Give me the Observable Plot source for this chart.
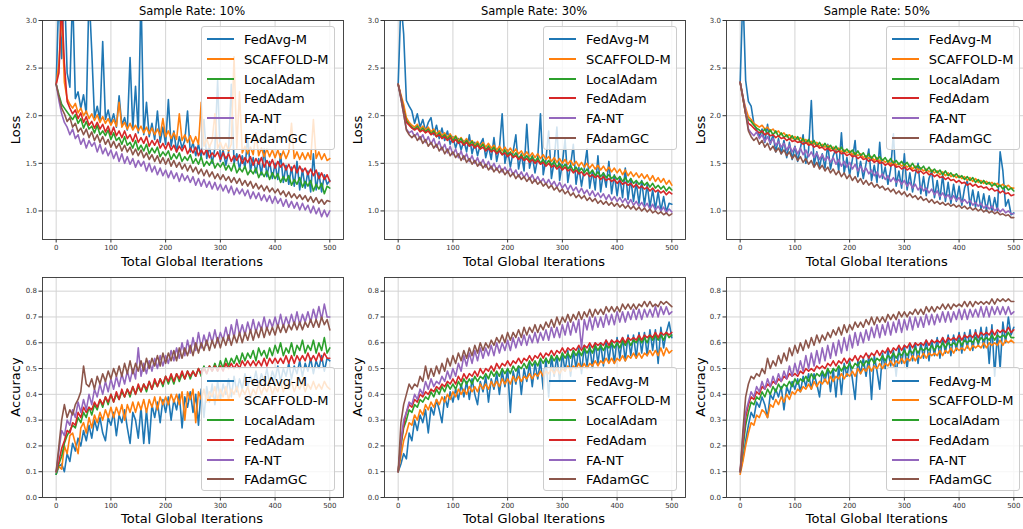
<!DOCTYPE html>
<html><head><meta charset="utf-8">
<script src="https://cdn.jsdelivr.net/npm/d3@7"></script>
<script src="https://cdn.jsdelivr.net/npm/@observablehq/plot@0.6"></script>
<style>
html,body{margin:0;padding:0;background:#fff;width:1023px;height:529px;overflow:hidden;font-family:"DejaVu Sans",sans-serif;}
#fig{position:relative;width:1023px;height:529px;overflow:hidden;background:#fff;}
.panel{position:absolute;}
.lbl{position:absolute;white-space:nowrap;color:#000;line-height:1;}
.legend{position:absolute;background:rgba(255,255,255,0.8);border:1px solid #cccccc;border-radius:3px;box-sizing:border-box;width:134px;height:124px;}
.sw{position:absolute;left:5px;width:27px;height:2px;}
.lt{position:absolute;left:42px;font-size:13px;line-height:1;color:#000;white-space:nowrap;transform:translateY(-50%);}
</style></head><body><div id="fig"></div><script>
const iterStep = 5;
const seriesNames = ["FedAvg-M","SCAFFOLD-M","LocalAdam","FedAdam","FA-NT","FAdamGC"];
const seriesColors = ["#1f77b4","#ff7f0e","#2ca02c","#d62728","#9467bd","#8c564b"];
const sampleRates = ["10%","30%","50%"];
const xTicks = [0,100,200,300,400,500];
const lossTicks = [1.0,1.5,2.0,2.5,3.0];
const accTicks = [0.0,0.1,0.2,0.3,0.4,0.5,0.6,0.7,0.8];

// ---- Loss, sample rate 10% ----
const loss10_FedAvgM = [2.33,3.3,2.6,3.4,2.45,2.3,3.3,2.18,2.25,2.08,
2.22,2.02,3.3,2.68,1.98,2.10,1.95,2.78,1.96,2.06,
1.92,2.02,1.88,2.21,1.90,1.98,1.85,2.61,1.86,2.31,
1.82,3.3,1.80,2.14,1.78,1.92,1.75,2.05,1.72,1.88,
1.70,2.17,1.68,1.84,1.62,1.78,1.66,1.74,2.05,1.62,
1.72,1.58,1.70,1.56,1.96,1.55,1.68,1.50,1.66,2.37,
1.52,1.64,1.48,1.62,2.33,1.50,1.60,1.44,1.58,1.45,
1.78,1.42,1.56,1.40,1.55,1.38,1.65,1.36,1.52,1.34,
1.50,1.33,1.60,1.30,1.48,1.28,1.46,1.26,1.52,1.22,
1.44,1.24,1.42,1.20,1.60,1.22,1.40,1.20,1.38,1.28,
1.32];
const loss10_SCAFFOLDM = [2.33,2.55,3.1,2.35,2.18,2.12,2.08,2.13,2.03,2.08,
2.00,2.05,1.97,2.02,1.95,2.01,1.93,1.99,1.92,1.97,
1.90,1.96,1.89,2.14,1.88,1.93,1.86,1.92,1.85,1.90,
1.84,1.89,1.82,1.88,1.81,1.87,1.80,1.86,1.79,1.97,
1.78,1.84,1.76,1.82,1.75,2.02,1.74,1.80,1.72,1.79,
1.71,1.78,1.70,2.14,1.68,1.76,1.67,1.74,2.02,1.66,
1.72,1.64,1.71,1.63,1.70,2.62,1.66,2.25,1.61,1.68,
1.60,1.67,1.59,1.82,1.58,1.66,1.57,1.65,1.57,1.64,
1.56,1.64,1.55,1.63,1.55,1.62,1.92,1.55,1.62,1.54,
1.61,1.54,1.61,1.54,1.96,1.55,1.62,1.54,1.60,1.53,
1.55];
const loss10_LocalAdam = [2.33,2.22,2.12,2.08,2.04,2.00,1.96,2.01,1.92,1.97,
1.87,1.94,1.86,1.89,1.82,1.90,1.80,1.84,1.79,1.85,
1.75,1.82,1.74,1.77,1.70,1.78,1.69,1.72,1.66,1.74,
1.64,1.69,1.63,1.70,1.60,1.66,1.61,1.67,1.57,1.62,
1.58,1.63,1.54,1.60,1.55,1.61,1.52,1.57,1.53,1.59,
1.50,1.55,1.49,1.57,1.47,1.52,1.48,1.54,1.45,1.50,
1.46,1.51,1.43,1.48,1.42,1.50,1.40,1.45,1.41,1.47,
1.38,1.43,1.39,1.45,1.35,1.41,1.36,1.42,1.33,1.40,
1.34,1.39,1.30,1.36,1.31,1.37,1.27,1.33,1.28,1.35,
1.25,1.31,1.26,1.32,1.21,1.28,1.23,1.29,1.18,1.26,
1.24];
const loss10_FedAdam = [2.33,2.45,3.2,2.55,2.15,2.08,2.02,2.06,1.97,2.03,
1.93,1.99,1.90,1.94,1.87,1.93,1.86,1.91,1.83,1.89,
1.80,1.88,1.79,1.84,1.77,1.84,1.76,1.80,1.73,1.81,
1.72,1.77,1.71,1.78,1.68,1.74,1.69,1.75,1.66,1.71,
1.65,1.72,1.64,1.69,1.62,1.68,1.63,1.69,1.60,1.66,
1.61,1.67,1.58,1.64,1.59,1.65,1.56,1.61,1.57,1.62,
1.54,1.61,1.55,1.60,1.52,1.58,1.53,1.59,1.50,1.56,
1.51,1.57,1.48,1.55,1.49,1.56,1.46,1.53,1.47,1.54,
1.45,1.52,1.46,1.50,1.43,1.49,1.42,1.48,1.40,1.47,
1.41,1.45,1.38,1.44,1.37,1.43,1.34,1.40,1.33,1.38,
1.31];
const loss10_FANT = [2.33,2.16,2.02,1.93,1.88,1.80,1.86,1.76,1.80,1.70,
1.76,1.66,1.74,1.68,1.72,1.62,1.70,1.60,1.66,1.58,
1.64,1.55,1.62,1.52,1.60,1.50,1.57,1.49,1.55,1.46,
1.53,1.47,1.52,1.42,1.50,1.41,1.47,1.38,1.45,1.37,
1.43,1.35,1.42,1.34,1.40,1.31,1.39,1.32,1.37,1.30,
1.36,1.27,1.34,1.26,1.33,1.25,1.31,1.23,1.30,1.22,
1.28,1.21,1.27,1.19,1.26,1.17,1.24,1.18,1.23,1.16,
1.22,1.13,1.20,1.13,1.19,1.11,1.17,1.10,1.16,1.08,
1.15,1.08,1.13,1.05,1.12,1.04,1.10,1.03,1.09,1.01,
1.08,1.01,1.06,0.98,1.05,0.97,1.03,0.94,1.01,0.94,
1.00];
const loss10_FAdamGC = [2.33,2.20,2.08,2.02,1.94,1.98,1.88,1.92,1.83,1.87,
1.80,1.86,1.77,1.83,1.74,1.80,1.72,1.78,1.70,1.75,
1.67,1.73,1.66,1.71,1.63,1.69,1.62,1.67,1.59,1.65,
1.58,1.64,1.56,1.61,1.54,1.59,1.52,1.58,1.50,1.56,
1.49,1.55,1.47,1.53,1.46,1.51,1.44,1.49,1.42,1.48,
1.41,1.46,1.39,1.44,1.37,1.43,1.36,1.41,1.34,1.39,
1.33,1.38,1.32,1.36,1.30,1.35,1.29,1.34,1.27,1.32,
1.26,1.31,1.24,1.29,1.23,1.27,1.21,1.26,1.20,1.24,
1.19,1.23,1.17,1.21,1.15,1.20,1.14,1.18,1.13,1.17,
1.12,1.16,1.10,1.15,1.09,1.14,1.08,1.12,1.07,1.11,
1.10];

// ---- Loss, sample rate 30% ----
const loss30_FedAvgM = [2.33,3.2,2.86,2.16,2.10,2.05,1.92,2.02,1.88,1.96,
1.84,1.93,1.98,1.80,1.90,1.76,1.87,1.74,1.84,1.70,
1.78,1.66,1.76,1.64,1.74,1.62,1.80,1.60,1.72,1.58,
1.70,1.76,1.56,1.68,1.54,1.77,1.52,1.66,2.02,1.50,
1.64,1.46,1.62,1.80,1.44,1.60,1.42,1.91,1.45,1.58,
1.40,1.56,2.02,1.38,1.54,1.84,1.34,1.52,1.88,1.32,
1.50,1.75,1.30,1.48,1.70,1.28,1.46,1.26,1.44,1.65,
1.24,1.42,1.22,1.58,1.20,1.40,1.25,1.52,1.18,1.38,
1.16,1.36,1.14,1.45,1.12,1.34,1.10,1.30,1.08,1.32,
1.06,1.28,1.04,1.22,1.02,1.20,1.00,1.15,0.99,1.08,
1.07];
const loss30_SCAFFOLDM = [2.33,2.22,2.12,1.98,1.93,1.90,1.88,1.91,1.86,1.89,
1.85,1.88,1.83,1.86,1.81,1.84,1.79,1.82,1.77,1.81,
1.76,1.79,1.74,1.77,1.72,1.76,1.71,1.74,1.69,1.73,
1.68,1.72,1.67,1.71,1.66,1.69,1.64,1.68,1.63,1.67,
1.62,1.66,1.61,1.65,1.60,1.63,1.58,1.62,1.57,1.61,
1.56,1.60,1.55,1.59,1.54,1.57,1.52,1.56,1.51,1.55,
1.50,1.54,1.49,1.53,1.48,1.52,1.47,1.51,1.46,1.50,
1.45,1.49,1.44,1.48,1.43,1.47,1.42,1.46,1.41,1.45,
1.40,1.44,1.38,1.43,1.37,1.41,1.36,1.40,1.35,1.39,
1.34,1.38,1.32,1.37,1.31,1.35,1.30,1.34,1.28,1.32,
1.27];
const loss30_LocalAdam = [2.33,2.20,2.06,1.95,1.91,1.88,1.86,1.89,1.84,1.87,
1.83,1.86,1.81,1.84,1.78,1.82,1.77,1.80,1.75,1.79,
1.73,1.78,1.72,1.76,1.70,1.74,1.69,1.73,1.67,1.71,
1.66,1.70,1.64,1.68,1.63,1.67,1.61,1.65,1.59,1.64,
1.58,1.62,1.57,1.61,1.55,1.59,1.54,1.58,1.53,1.57,
1.52,1.56,1.50,1.54,1.49,1.53,1.48,1.52,1.46,1.50,
1.45,1.49,1.44,1.48,1.42,1.46,1.41,1.45,1.40,1.44,
1.39,1.43,1.37,1.41,1.36,1.40,1.35,1.38,1.34,1.37,
1.33,1.36,1.31,1.35,1.30,1.34,1.29,1.32,1.28,1.31,
1.27,1.30,1.25,1.29,1.24,1.27,1.23,1.26,1.21,1.25,
1.22];
const loss30_FedAdam = [2.33,2.20,2.05,1.93,1.90,1.87,1.85,1.87,1.83,1.85,
1.82,1.84,1.80,1.82,1.78,1.80,1.76,1.78,1.74,1.77,
1.72,1.75,1.71,1.73,1.69,1.72,1.68,1.70,1.66,1.69,
1.65,1.67,1.63,1.66,1.62,1.64,1.60,1.63,1.59,1.61,
1.57,1.60,1.56,1.58,1.54,1.57,1.53,1.55,1.51,1.54,
1.50,1.53,1.49,1.51,1.47,1.50,1.46,1.48,1.44,1.47,
1.43,1.46,1.42,1.44,1.40,1.43,1.39,1.41,1.37,1.40,
1.36,1.38,1.35,1.37,1.33,1.36,1.32,1.34,1.31,1.33,
1.29,1.32,1.28,1.30,1.27,1.29,1.25,1.28,1.24,1.26,
1.23,1.25,1.21,1.24,1.20,1.22,1.19,1.21,1.17,1.20,
1.18];
const loss30_FANT = [2.33,2.18,2.02,1.86,1.82,1.84,1.78,1.82,1.75,1.80,
1.72,1.78,1.70,1.76,1.67,1.73,1.64,1.70,1.61,1.68,
1.59,1.65,1.56,1.63,1.54,1.60,1.52,1.58,1.50,1.56,
1.48,1.54,1.46,1.52,1.44,1.50,1.43,1.48,1.41,1.46,
1.40,1.45,1.38,1.43,1.36,1.41,1.35,1.40,1.33,1.38,
1.31,1.36,1.30,1.34,1.28,1.33,1.27,1.31,1.25,1.30,
1.24,1.28,1.22,1.27,1.21,1.25,1.19,1.24,1.18,1.22,
1.16,1.21,1.15,1.19,1.14,1.18,1.12,1.17,1.11,1.15,
1.10,1.14,1.09,1.13,1.07,1.12,1.06,1.10,1.05,1.09,
1.04,1.08,1.02,1.07,1.01,1.05,1.00,1.04,0.98,1.02,
0.99];
const loss30_FAdamGC = [2.33,2.18,2.02,1.85,1.80,1.77,1.80,1.74,1.78,1.71,
1.75,1.68,1.72,1.66,1.70,1.63,1.67,1.60,1.65,1.58,
1.62,1.56,1.60,1.53,1.58,1.51,1.55,1.49,1.53,1.47,
1.51,1.45,1.49,1.43,1.47,1.41,1.45,1.40,1.44,1.38,
1.42,1.36,1.40,1.34,1.38,1.33,1.36,1.31,1.35,1.29,
1.33,1.28,1.31,1.26,1.29,1.24,1.27,1.22,1.25,1.20,
1.23,1.18,1.21,1.16,1.19,1.14,1.17,1.13,1.16,1.11,
1.14,1.10,1.13,1.08,1.11,1.07,1.10,1.06,1.09,1.05,
1.08,1.04,1.07,1.03,1.06,1.02,1.05,1.01,1.04,1.00,
1.03,0.99,1.02,0.98,1.00,0.97,0.99,0.96,0.98,0.95,
0.97];

// ---- Loss, sample rate 50% ----
const loss50_FedAvgM = [2.35,3.3,2.37,2.15,2.10,1.92,1.85,1.78,1.86,1.72,
1.91,1.70,1.80,1.62,1.76,1.60,1.74,1.56,1.72,1.54,
1.68,1.52,1.66,1.80,1.50,1.64,2.16,1.48,1.62,1.46,
1.60,1.45,1.70,1.44,1.58,1.65,1.42,1.82,1.40,1.56,
1.38,1.54,1.74,1.36,1.52,1.34,1.50,1.65,1.32,1.48,
1.30,1.72,1.34,1.46,1.28,1.44,1.81,1.26,1.42,1.24,
1.60,1.22,1.40,1.20,1.38,1.50,1.18,1.36,1.16,1.34,
1.42,1.14,1.32,1.12,1.38,1.10,1.30,1.08,1.28,1.10,
1.26,1.06,1.24,1.32,1.05,1.22,1.04,1.20,1.02,1.18,
1.00,1.16,0.99,1.14,1.00,1.62,1.42,1.05,1.12,0.96,
0.98];
const loss50_SCAFFOLDM = [2.35,2.20,2.08,1.99,1.96,1.92,1.90,1.88,1.90,1.86,
1.88,1.84,1.86,1.82,1.84,1.80,1.82,1.78,1.80,1.76,
1.78,1.75,1.77,1.73,1.75,1.71,1.73,1.70,1.72,1.68,
1.70,1.67,1.69,1.65,1.67,1.64,1.66,1.62,1.64,1.61,
1.63,1.59,1.61,1.58,1.60,1.56,1.58,1.55,1.57,1.53,
1.56,1.52,1.54,1.51,1.53,1.49,1.52,1.48,1.50,1.47,
1.49,1.46,1.48,1.44,1.47,1.43,1.45,1.42,1.44,1.41,
1.43,1.40,1.42,1.38,1.41,1.37,1.40,1.36,1.38,1.35,
1.37,1.34,1.36,1.32,1.35,1.31,1.34,1.30,1.32,1.29,
1.31,1.28,1.30,1.27,1.29,1.26,1.28,1.25,1.27,1.24,
1.24];
const loss50_LocalAdam = [2.35,2.18,2.02,1.96,1.94,1.90,1.87,1.85,1.82,1.86,
1.81,1.85,1.80,1.84,1.78,1.82,1.77,1.80,1.75,1.79,
1.74,1.78,1.72,1.76,1.71,1.75,1.70,1.74,1.68,1.72,
1.67,1.71,1.66,1.69,1.64,1.68,1.63,1.67,1.62,1.65,
1.61,1.64,1.59,1.63,1.58,1.61,1.56,1.60,1.55,1.59,
1.54,1.57,1.53,1.56,1.51,1.55,1.50,1.53,1.49,1.52,
1.48,1.51,1.46,1.50,1.45,1.48,1.44,1.47,1.42,1.46,
1.41,1.44,1.40,1.43,1.38,1.42,1.37,1.40,1.36,1.39,
1.35,1.37,1.33,1.36,1.32,1.35,1.30,1.33,1.29,1.32,
1.28,1.30,1.26,1.29,1.25,1.27,1.23,1.26,1.22,1.24,
1.21];
const loss50_FedAdam = [2.35,2.18,2.02,1.92,1.90,1.87,1.84,1.82,1.84,1.80,
1.82,1.79,1.80,1.77,1.79,1.76,1.77,1.74,1.76,1.73,
1.74,1.72,1.73,1.70,1.72,1.69,1.70,1.67,1.69,1.66,
1.67,1.64,1.66,1.63,1.64,1.61,1.63,1.60,1.61,1.58,
1.60,1.57,1.58,1.55,1.57,1.54,1.55,1.52,1.54,1.51,
1.53,1.50,1.51,1.48,1.50,1.47,1.49,1.46,1.47,1.44,
1.46,1.43,1.45,1.42,1.43,1.40,1.42,1.39,1.41,1.38,
1.39,1.36,1.38,1.35,1.36,1.33,1.35,1.32,1.33,1.30,
1.32,1.29,1.30,1.27,1.29,1.26,1.28,1.25,1.26,1.24,
1.25,1.22,1.24,1.21,1.22,1.19,1.21,1.18,1.19,1.16,
1.17];
const loss50_FANT = [2.35,2.20,2.05,1.86,1.82,1.79,1.83,1.76,1.80,1.73,
1.78,1.71,1.76,1.69,1.73,1.67,1.71,1.64,1.69,1.62,
1.67,1.60,1.66,1.59,1.64,1.57,1.62,1.56,1.61,1.54,
1.59,1.53,1.57,1.51,1.56,1.49,1.54,1.47,1.52,1.46,
1.51,1.44,1.49,1.42,1.47,1.41,1.45,1.39,1.43,1.37,
1.41,1.35,1.39,1.33,1.37,1.31,1.35,1.30,1.33,1.28,
1.32,1.26,1.30,1.24,1.28,1.22,1.26,1.21,1.24,1.19,
1.23,1.17,1.21,1.15,1.19,1.14,1.17,1.12,1.16,1.11,
1.14,1.09,1.12,1.08,1.11,1.06,1.09,1.05,1.08,1.03,
1.06,1.02,1.05,1.00,1.03,0.99,1.02,0.98,1.00,0.97,
0.97];
const loss50_FAdamGC = [2.35,2.20,2.02,1.84,1.78,1.74,1.77,1.70,1.74,1.67,
1.71,1.64,1.68,1.62,1.66,1.60,1.64,1.58,1.62,1.55,
1.59,1.53,1.57,1.51,1.55,1.49,1.53,1.46,1.51,1.44,
1.48,1.42,1.46,1.40,1.44,1.38,1.42,1.36,1.40,1.34,
1.38,1.32,1.36,1.30,1.34,1.28,1.32,1.27,1.30,1.25,
1.28,1.24,1.26,1.22,1.24,1.20,1.23,1.18,1.21,1.17,
1.20,1.15,1.18,1.14,1.16,1.12,1.15,1.11,1.13,1.09,
1.12,1.08,1.10,1.07,1.09,1.06,1.08,1.05,1.07,1.04,
1.06,1.03,1.05,1.02,1.04,1.01,1.03,1.00,1.02,0.99,
1.01,0.98,1.00,0.97,0.99,0.96,0.97,0.95,0.96,0.93,
0.93];

// ---- Accuracy, sample rate 10% ----
const acc10_FedAvgM = [0.09,0.12,0.13,0.10,0.17,0.14,0.21,0.18,0.23,0.20,
0.26,0.22,0.28,0.23,0.30,0.26,0.31,0.25,0.22,0.31,
0.28,0.33,0.24,0.32,0.29,0.34,0.27,0.21,0.33,0.30,
0.23,0.35,0.21,0.34,0.21,0.36,0.31,0.37,0.29,0.38,
0.33,0.39,0.30,0.38,0.34,0.40,0.27,0.39,0.35,0.41,
0.33,0.40,0.28,0.42,0.31,0.43,0.37,0.44,0.36,0.45,
0.38,0.44,0.40,0.46,0.39,0.47,0.41,0.46,0.42,0.48,
0.43,0.47,0.44,0.49,0.43,0.48,0.45,0.50,0.44,0.49,
0.46,0.51,0.45,0.50,0.47,0.52,0.46,0.51,0.48,0.53,
0.47,0.52,0.49,0.54,0.48,0.53,0.50,0.55,0.49,0.54,
0.53];
const acc10_SCAFFOLDM = [0.10,0.12,0.11,0.20,0.17,0.24,0.25,0.21,0.17,0.27,
0.29,0.25,0.31,0.27,0.32,0.29,0.33,0.30,0.34,0.31,
0.35,0.31,0.35,0.32,0.36,0.30,0.36,0.33,0.37,0.33,
0.37,0.34,0.38,0.33,0.38,0.35,0.39,0.34,0.39,0.36,
0.39,0.36,0.40,0.37,0.40,0.36,0.41,0.30,0.41,0.38,
0.42,0.29,0.41,0.38,0.42,0.37,0.41,0.39,0.43,0.38,
0.42,0.39,0.43,0.38,0.42,0.40,0.43,0.39,0.42,0.40,
0.43,0.39,0.42,0.40,0.44,0.40,0.43,0.41,0.44,0.40,
0.43,0.41,0.45,0.41,0.44,0.42,0.45,0.41,0.44,0.42,
0.45,0.41,0.44,0.42,0.45,0.42,0.44,0.42,0.45,0.43,
0.42];
const acc10_LocalAdam = [0.09,0.13,0.16,0.21,0.24,0.26,0.28,0.27,0.31,0.29,
0.33,0.31,0.35,0.32,0.36,0.34,0.38,0.35,0.39,0.36,
0.40,0.37,0.40,0.38,0.41,0.39,0.42,0.39,0.43,0.40,
0.43,0.41,0.44,0.41,0.45,0.42,0.45,0.43,0.46,0.43,
0.47,0.44,0.47,0.44,0.48,0.45,0.48,0.46,0.49,0.46,
0.49,0.47,0.50,0.47,0.51,0.48,0.51,0.49,0.52,0.49,
0.53,0.50,0.54,0.51,0.54,0.52,0.55,0.52,0.56,0.53,
0.56,0.54,0.57,0.53,0.58,0.55,0.57,0.54,0.58,0.55,
0.59,0.56,0.60,0.55,0.58,0.56,0.60,0.55,0.59,0.57,
0.61,0.56,0.59,0.57,0.61,0.56,0.60,0.57,0.62,0.56,
0.58];
const acc10_FedAdam = [0.10,0.14,0.19,0.22,0.26,0.25,0.29,0.28,0.33,0.31,
0.35,0.33,0.35,0.34,0.37,0.35,0.38,0.36,0.39,0.37,
0.40,0.37,0.41,0.38,0.42,0.39,0.42,0.40,0.43,0.40,
0.44,0.41,0.44,0.42,0.45,0.42,0.46,0.43,0.46,0.44,
0.47,0.45,0.48,0.45,0.48,0.46,0.49,0.46,0.49,0.47,
0.49,0.47,0.50,0.48,0.50,0.48,0.51,0.49,0.51,0.49,
0.51,0.49,0.52,0.50,0.52,0.50,0.52,0.50,0.53,0.51,
0.53,0.51,0.53,0.51,0.53,0.51,0.54,0.51,0.54,0.52,
0.54,0.52,0.54,0.52,0.55,0.52,0.55,0.52,0.55,0.53,
0.55,0.53,0.56,0.53,0.55,0.53,0.56,0.53,0.56,0.54,
0.54];
const acc10_FANT = [0.10,0.18,0.26,0.24,0.30,0.28,0.34,0.31,0.37,0.33,
0.38,0.34,0.40,0.36,0.42,0.39,0.44,0.40,0.45,0.41,
0.46,0.42,0.47,0.43,0.48,0.44,0.49,0.45,0.50,0.46,
0.58,0.47,0.52,0.48,0.53,0.49,0.54,0.50,0.55,0.51,
0.55,0.52,0.57,0.53,0.58,0.54,0.60,0.55,0.61,0.56,
0.62,0.57,0.64,0.58,0.63,0.59,0.64,0.60,0.65,0.60,
0.64,0.61,0.66,0.61,0.67,0.62,0.69,0.63,0.67,0.63,
0.68,0.64,0.69,0.64,0.68,0.65,0.70,0.65,0.69,0.66,
0.70,0.66,0.71,0.66,0.70,0.67,0.71,0.67,0.72,0.67,
0.71,0.68,0.72,0.68,0.73,0.69,0.74,0.69,0.75,0.70,
0.70];
const acc10_FAdamGC = [0.10,0.20,0.30,0.36,0.31,0.34,0.32,0.36,0.38,0.41,
0.51,0.44,0.43,0.46,0.42,0.47,0.44,0.48,0.45,0.49,
0.46,0.50,0.47,0.51,0.47,0.52,0.48,0.53,0.48,0.52,
0.49,0.53,0.49,0.54,0.50,0.54,0.51,0.55,0.51,0.56,
0.52,0.56,0.53,0.57,0.53,0.58,0.54,0.58,0.55,0.59,
0.55,0.60,0.56,0.60,0.57,0.61,0.57,0.61,0.58,0.62,
0.58,0.62,0.59,0.63,0.59,0.63,0.60,0.64,0.60,0.64,
0.61,0.65,0.61,0.65,0.62,0.66,0.62,0.66,0.63,0.66,
0.63,0.67,0.64,0.67,0.64,0.67,0.65,0.68,0.65,0.68,
0.65,0.68,0.66,0.69,0.66,0.69,0.66,0.70,0.67,0.69,
0.65];

// ---- Accuracy, sample rate 30% ----
const acc30_FedAvgM = [0.10,0.13,0.17,0.15,0.25,0.22,0.30,0.26,0.32,0.29,
0.34,0.25,0.35,0.32,0.38,0.34,0.29,0.39,0.35,0.41,
0.37,0.42,0.38,0.44,0.39,0.45,0.38,0.46,0.40,0.36,
0.45,0.41,0.47,0.37,0.46,0.42,0.48,0.40,0.49,0.43,
0.50,0.33,0.49,0.44,0.51,0.40,0.50,0.45,0.52,0.43,
0.52,0.46,0.53,0.42,0.54,0.39,0.55,0.47,0.55,0.45,
0.56,0.49,0.57,0.47,0.57,0.50,0.58,0.48,0.59,0.51,
0.59,0.50,0.60,0.52,0.60,0.51,0.61,0.53,0.61,0.52,
0.62,0.54,0.62,0.53,0.63,0.55,0.63,0.54,0.64,0.56,
0.64,0.55,0.65,0.57,0.65,0.52,0.66,0.58,0.64,0.68,
0.62];
const acc30_SCAFFOLDM = [0.10,0.16,0.22,0.25,0.29,0.28,0.32,0.30,0.34,0.32,
0.36,0.34,0.37,0.35,0.38,0.36,0.39,0.37,0.40,0.38,
0.41,0.39,0.42,0.40,0.42,0.40,0.43,0.41,0.43,0.41,
0.44,0.42,0.44,0.42,0.45,0.43,0.45,0.43,0.46,0.44,
0.46,0.44,0.47,0.45,0.47,0.45,0.47,0.46,0.48,0.46,
0.48,0.47,0.49,0.47,0.49,0.48,0.50,0.48,0.50,0.48,
0.50,0.49,0.51,0.49,0.51,0.50,0.52,0.50,0.52,0.50,
0.52,0.51,0.53,0.51,0.53,0.52,0.54,0.52,0.54,0.52,
0.54,0.53,0.55,0.53,0.55,0.54,0.56,0.54,0.56,0.54,
0.56,0.55,0.57,0.55,0.57,0.55,0.58,0.55,0.58,0.56,
0.57];
const acc30_LocalAdam = [0.10,0.20,0.27,0.30,0.34,0.33,0.36,0.35,0.38,0.37,
0.39,0.38,0.41,0.39,0.42,0.40,0.43,0.41,0.44,0.42,
0.44,0.42,0.45,0.43,0.46,0.44,0.46,0.44,0.47,0.45,
0.47,0.46,0.48,0.46,0.49,0.47,0.49,0.47,0.50,0.48,
0.50,0.48,0.51,0.49,0.51,0.50,0.52,0.50,0.53,0.51,
0.53,0.51,0.54,0.52,0.54,0.52,0.55,0.53,0.55,0.53,
0.56,0.54,0.56,0.54,0.57,0.55,0.57,0.55,0.58,0.56,
0.58,0.56,0.59,0.57,0.59,0.57,0.59,0.58,0.60,0.58,
0.60,0.58,0.61,0.59,0.61,0.59,0.61,0.60,0.62,0.60,
0.62,0.60,0.63,0.61,0.63,0.61,0.63,0.61,0.64,0.62,
0.63];
const acc30_FedAdam = [0.10,0.21,0.28,0.33,0.36,0.35,0.38,0.37,0.40,0.39,
0.41,0.40,0.42,0.41,0.43,0.42,0.44,0.43,0.45,0.44,
0.46,0.44,0.47,0.45,0.48,0.46,0.48,0.47,0.49,0.47,
0.50,0.48,0.50,0.49,0.51,0.49,0.52,0.50,0.52,0.51,
0.53,0.51,0.53,0.52,0.54,0.52,0.54,0.53,0.55,0.53,
0.55,0.54,0.56,0.54,0.56,0.55,0.57,0.55,0.57,0.56,
0.58,0.56,0.58,0.57,0.58,0.57,0.59,0.57,0.59,0.58,
0.60,0.58,0.60,0.59,0.60,0.59,0.61,0.59,0.61,0.60,
0.61,0.60,0.62,0.60,0.62,0.61,0.62,0.61,0.63,0.61,
0.63,0.62,0.63,0.62,0.64,0.62,0.64,0.63,0.64,0.63,
0.64];
const acc30_FANT = [0.10,0.22,0.30,0.33,0.37,0.36,0.40,0.38,0.42,0.40,
0.45,0.42,0.46,0.43,0.45,0.44,0.47,0.45,0.49,0.46,
0.50,0.47,0.52,0.49,0.55,0.51,0.56,0.52,0.57,0.53,
0.58,0.54,0.58,0.55,0.59,0.55,0.60,0.56,0.60,0.57,
0.61,0.57,0.62,0.58,0.62,0.59,0.63,0.59,0.63,0.60,
0.64,0.60,0.64,0.61,0.65,0.61,0.66,0.62,0.66,0.62,
0.67,0.63,0.68,0.63,0.68,0.64,0.69,0.58,0.69,0.65,
0.70,0.65,0.70,0.66,0.70,0.66,0.71,0.67,0.71,0.67,
0.72,0.68,0.72,0.68,0.72,0.69,0.73,0.69,0.73,0.69,
0.73,0.70,0.73,0.70,0.74,0.70,0.74,0.71,0.74,0.71,
0.72];
const acc30_FAdamGC = [0.10,0.29,0.36,0.40,0.44,0.42,0.44,0.43,0.47,0.45,
0.51,0.46,0.50,0.47,0.51,0.48,0.52,0.49,0.54,0.51,
0.55,0.52,0.56,0.53,0.57,0.54,0.58,0.55,0.59,0.56,
0.60,0.57,0.60,0.58,0.61,0.59,0.62,0.60,0.63,0.60,
0.64,0.61,0.64,0.62,0.65,0.62,0.66,0.63,0.66,0.64,
0.67,0.64,0.67,0.65,0.68,0.66,0.69,0.66,0.70,0.67,
0.70,0.68,0.71,0.68,0.71,0.69,0.72,0.69,0.72,0.70,
0.73,0.70,0.73,0.71,0.73,0.71,0.74,0.72,0.74,0.72,
0.74,0.72,0.75,0.73,0.75,0.73,0.75,0.73,0.75,0.74,
0.76,0.74,0.76,0.74,0.75,0.74,0.76,0.75,0.76,0.75,
0.74];

// ---- Accuracy, sample rate 50% ----
const acc50_FedAvgM = [0.10,0.15,0.22,0.28,0.33,0.31,0.37,0.35,0.39,0.36,
0.31,0.40,0.38,0.42,0.39,0.43,0.34,0.43,0.40,0.45,
0.42,0.46,0.41,0.47,0.43,0.48,0.42,0.48,0.44,0.39,
0.49,0.45,0.50,0.41,0.50,0.39,0.51,0.40,0.52,0.47,
0.53,0.46,0.38,0.53,0.48,0.54,0.47,0.55,0.38,0.55,
0.49,0.42,0.56,0.50,0.57,0.51,0.57,0.47,0.58,0.52,
0.59,0.50,0.59,0.53,0.60,0.52,0.60,0.54,0.61,0.53,
0.61,0.55,0.62,0.54,0.62,0.56,0.63,0.55,0.63,0.57,
0.64,0.56,0.64,0.58,0.65,0.57,0.65,0.59,0.66,0.58,
0.66,0.52,0.67,0.47,0.64,0.50,0.68,0.60,0.70,0.63,
0.66];
const acc50_SCAFFOLDM = [0.09,0.14,0.20,0.25,0.29,0.28,0.32,0.31,0.34,0.33,
0.31,0.36,0.35,0.38,0.36,0.39,0.37,0.40,0.38,0.41,
0.40,0.42,0.41,0.43,0.42,0.44,0.42,0.45,0.43,0.45,
0.44,0.46,0.44,0.47,0.45,0.47,0.46,0.48,0.46,0.48,
0.47,0.49,0.47,0.50,0.48,0.50,0.49,0.51,0.49,0.51,
0.50,0.52,0.50,0.52,0.51,0.53,0.51,0.53,0.52,0.54,
0.52,0.54,0.53,0.55,0.53,0.55,0.54,0.56,0.54,0.56,
0.55,0.56,0.55,0.57,0.55,0.57,0.56,0.58,0.56,0.58,
0.57,0.58,0.57,0.59,0.57,0.59,0.58,0.59,0.58,0.60,
0.58,0.60,0.59,0.60,0.59,0.61,0.59,0.61,0.60,0.61,
0.60];
const acc50_LocalAdam = [0.10,0.19,0.28,0.33,0.37,0.36,0.39,0.38,0.41,0.39,
0.42,0.40,0.43,0.41,0.44,0.42,0.44,0.43,0.45,0.43,
0.46,0.44,0.46,0.45,0.47,0.45,0.48,0.46,0.48,0.47,
0.49,0.47,0.50,0.48,0.50,0.49,0.51,0.49,0.51,0.50,
0.52,0.50,0.52,0.51,0.53,0.51,0.53,0.52,0.54,0.52,
0.54,0.53,0.55,0.53,0.55,0.54,0.56,0.54,0.56,0.55,
0.57,0.55,0.57,0.56,0.58,0.56,0.58,0.57,0.58,0.57,
0.59,0.57,0.59,0.58,0.60,0.58,0.60,0.59,0.60,0.59,
0.61,0.59,0.61,0.60,0.61,0.60,0.62,0.60,0.62,0.61,
0.62,0.61,0.63,0.61,0.63,0.62,0.63,0.62,0.64,0.62,
0.62];
const acc50_FedAdam = [0.10,0.21,0.31,0.36,0.39,0.38,0.41,0.40,0.43,0.42,
0.44,0.43,0.45,0.44,0.46,0.45,0.47,0.46,0.48,0.47,
0.48,0.47,0.49,0.48,0.50,0.49,0.50,0.49,0.51,0.50,
0.51,0.50,0.52,0.51,0.53,0.51,0.53,0.52,0.54,0.52,
0.54,0.53,0.55,0.53,0.55,0.54,0.56,0.54,0.56,0.55,
0.57,0.55,0.57,0.56,0.58,0.56,0.58,0.57,0.59,0.57,
0.59,0.58,0.60,0.58,0.60,0.59,0.60,0.59,0.61,0.59,
0.61,0.60,0.61,0.60,0.62,0.60,0.62,0.61,0.62,0.61,
0.63,0.61,0.63,0.62,0.63,0.62,0.64,0.62,0.64,0.63,
0.64,0.63,0.65,0.63,0.65,0.64,0.65,0.64,0.66,0.64,
0.65];
const acc50_FANT = [0.10,0.24,0.33,0.37,0.41,0.39,0.43,0.41,0.45,0.42,
0.46,0.43,0.47,0.44,0.48,0.45,0.49,0.46,0.51,0.47,
0.52,0.48,0.53,0.49,0.55,0.50,0.56,0.51,0.57,0.52,
0.58,0.53,0.59,0.54,0.60,0.55,0.61,0.56,0.62,0.57,
0.63,0.58,0.64,0.59,0.64,0.60,0.65,0.61,0.66,0.62,
0.67,0.62,0.67,0.63,0.68,0.63,0.68,0.64,0.69,0.64,
0.69,0.65,0.70,0.65,0.70,0.66,0.70,0.66,0.71,0.67,
0.71,0.67,0.71,0.68,0.72,0.68,0.72,0.68,0.72,0.69,
0.73,0.69,0.73,0.69,0.73,0.70,0.73,0.70,0.74,0.70,
0.74,0.70,0.74,0.71,0.74,0.71,0.74,0.71,0.74,0.71,
0.72];
const acc50_FAdamGC = [0.10,0.26,0.39,0.44,0.47,0.46,0.48,0.47,0.50,0.48,
0.54,0.50,0.53,0.51,0.55,0.52,0.56,0.53,0.58,0.55,
0.59,0.56,0.60,0.57,0.61,0.58,0.62,0.59,0.63,0.60,
0.63,0.61,0.64,0.62,0.65,0.63,0.66,0.63,0.67,0.64,
0.67,0.65,0.68,0.66,0.68,0.66,0.69,0.67,0.70,0.67,
0.70,0.68,0.70,0.68,0.71,0.69,0.71,0.69,0.72,0.70,
0.72,0.70,0.72,0.71,0.73,0.71,0.73,0.71,0.74,0.72,
0.74,0.72,0.74,0.73,0.75,0.73,0.75,0.73,0.75,0.74,
0.75,0.74,0.76,0.74,0.76,0.74,0.76,0.75,0.76,0.75,
0.76,0.75,0.77,0.75,0.77,0.76,0.77,0.76,0.77,0.76,
0.76];

// ---- assemble panels (layout only) ----
const lossSeries = [
  [loss10_FedAvgM,loss10_SCAFFOLDM,loss10_LocalAdam,loss10_FedAdam,loss10_FANT,loss10_FAdamGC],
  [loss30_FedAvgM,loss30_SCAFFOLDM,loss30_LocalAdam,loss30_FedAdam,loss30_FANT,loss30_FAdamGC],
  [loss50_FedAvgM,loss50_SCAFFOLDM,loss50_LocalAdam,loss50_FedAdam,loss50_FANT,loss50_FAdamGC]];
const accSeries = [
  [acc10_FedAvgM,acc10_SCAFFOLDM,acc10_LocalAdam,acc10_FedAdam,acc10_FANT,acc10_FAdamGC],
  [acc30_FedAvgM,acc30_SCAFFOLDM,acc30_LocalAdam,acc30_FedAdam,acc30_FANT,acc30_FAdamGC],
  [acc50_FedAvgM,acc50_SCAFFOLDM,acc50_LocalAdam,acc50_FedAdam,acc50_FANT,acc50_FAdamGC]];

const fig = document.getElementById("fig");
const colFrameLeft = [41.5, 383.6, 726.3];
const frameW = 301;
const ML = 40, MR = 10, MT = 20, MB = 30;
const rows = [
  {frameTop: 20, frameH: 219, domain: [0.7, 3.0], ticks: lossTicks, label: "Loss", series: lossSeries, legendPos: "top"},
  {frameTop: 276.5, frameH: 220, domain: [0, 0.853], ticks: accTicks, label: "Accuracy", series: accSeries, legendPos: "bottom"}
];
const fmt1 = d3.format(".1f");

function addText(txt, x, y, size, rotate) {
  const d = document.createElement("div");
  d.className = "lbl";
  d.textContent = txt;
  d.style.left = x + "px";
  d.style.top = y + "px";
  d.style.fontSize = size + "px";
  d.style.transform = "translate(-50%,-50%)" + (rotate ? " rotate(-90deg)" : "");
  fig.appendChild(d);
}

rows.forEach((row, r) => {
  for (let c = 0; c < 3; c++) {
    const fl = colFrameLeft[c];
    const lineMarks = row.series[c].map((arr, k) =>
      Plot.line(arr.map((v, i) => ({it: i * iterStep, v})), {
        x: "it", y: "v", stroke: seriesColors[k], strokeWidth: 1.6, clip: true
      }));
    const svg = Plot.plot({
      width: ML + frameW + MR,
      height: MT + row.frameH + MB,
      marginLeft: ML, marginRight: MR, marginTop: MT, marginBottom: MB,
      style: {background: "transparent", overflow: "visible", fontFamily: "DejaVu Sans", fontSize: "7px", color: "#333", maxWidth: "none"},
      x: {domain: [-25, 525], ticks: xTicks, tickSize: 3.5, tickPadding: 2.5, label: null, tickFormat: d => String(d)},
      y: {domain: row.domain, ticks: row.ticks, tickSize: 3.5, tickPadding: 2, label: null, tickFormat: fmt1},
      marks: [
        Plot.ruleX(xTicks, {stroke: "#d4d4d4", strokeWidth: 1}),
        Plot.ruleY(row.ticks, {stroke: "#d4d4d4", strokeWidth: 1}),
        ...lineMarks,
        Plot.frame({stroke: "#333", strokeWidth: 0.9})
      ]
    });
    const wrap = document.createElement("div");
    wrap.className = "panel";
    wrap.style.left = (fl - ML) + "px";
    wrap.style.top = (row.frameTop - MT) + "px";
    wrap.style.width = (ML + frameW + MR) + "px";
    wrap.appendChild(svg);
    fig.appendChild(wrap);

    const cx = fl + frameW / 2;
    const fb = row.frameTop + row.frameH;
    addText("Total Global Iterations", cx, fb + 21.5, 13, false);
    addText(row.label, fl - 26.5, row.frameTop + row.frameH / 2, 13, true);
    if (r === 0) addText("Sample Rate: " + sampleRates[c], cx, 11.5, 11.5, false);

    // legend
    const lg = document.createElement("div");
    lg.className = "legend";
    const lgLeft = fl + frameW - 7.5 - 134;
    const lgTop = row.legendPos === "top" ? row.frameTop + 5.5 : fb - 5.5 - 124;
    lg.style.left = lgLeft + "px";
    lg.style.top = lgTop + "px";
    seriesNames.forEach((name, k) => {
      const cy = 12.5 + k * 19.75;
      const sw = document.createElement("div");
      sw.className = "sw";
      sw.style.top = (cy - 1) + "px";
      sw.style.background = seriesColors[k];
      lg.appendChild(sw);
      const t = document.createElement("div");
      t.className = "lt";
      t.style.top = cy + "px";
      t.textContent = name;
      lg.appendChild(t);
    });
    fig.appendChild(lg);
  }
});
</script></body></html>
